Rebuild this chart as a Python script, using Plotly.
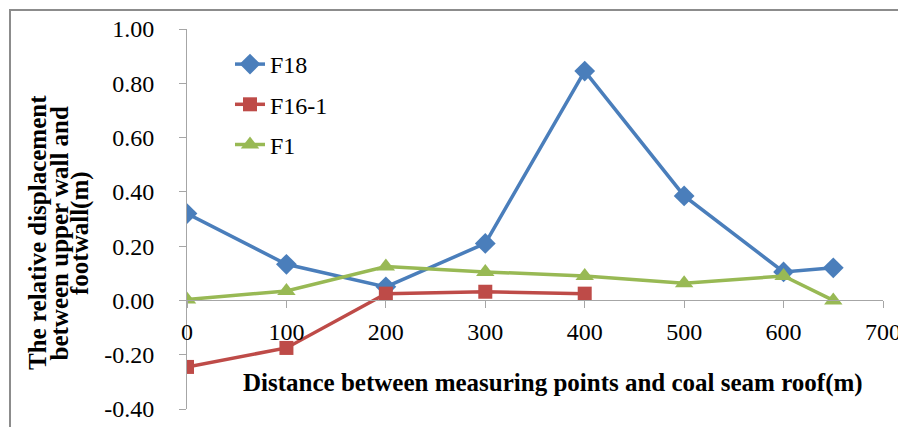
import plotly.graph_objects as go

# Data
x_f18 = [0, 100, 200, 300, 400, 500, 600, 650]
y_f18 = [0.32, 0.133, 0.05, 0.21, 0.845, 0.385, 0.105, 0.12]
x_f16 = [0, 100, 200, 300, 400]
y_f16 = [-0.245, -0.175, 0.025, 0.032, 0.025]
x_f1 = [0, 100, 200, 300, 400, 500, 600, 650]
y_f1 = [0.003, 0.035, 0.125, 0.105, 0.09, 0.063, 0.09, 0.0]

x_ticks = [0, 100, 200, 300, 400, 500, 600, 700]
y_ticks = [-0.4, -0.2, 0.0, 0.2, 0.4, 0.6, 0.8, 1.0]
y_tick_labels = ["-0.40", "-0.20", "0.00", "0.20", "0.40", "0.60", "0.80", "1.00"]

x_title = "Distance between measuring points and coal seam roof(m)"
y_title_lines = ["The relative displacement", "between upper wall and", "footwall(m)"]

FONT = "Liberation Serif"
OFF = 8  # default page body margin
W, H = 906 - OFF, 427 - OFF
ML, MR, MT, MB = 187 - OFF, 23, 29 - OFF, 18
ymin, ymax = -0.4, 1.0

fig = go.Figure()
fig.add_trace(go.Scatter(x=x_f18, y=y_f18, name="F18", mode="lines+markers",
                         line=dict(color="#4A7EBB", width=3.5),
                         marker=dict(symbol="diamond", size=16, color="#4A7EBB"),
                         legendgroup="a"))
fig.add_trace(go.Scatter(x=x_f16, y=y_f16, name="F16-1", mode="lines+markers",
                         line=dict(color="#BE4B48", width=3.5),
                         marker=dict(symbol="square", size=14, color="#BE4B48"),
                         legendgroup="b"))
fig.add_trace(go.Scatter(x=x_f1, y=y_f1, name="F1", mode="lines+markers",
                         line=dict(color="#98B954", width=3.5),
                         marker=dict(symbol="triangle-up", size=16, color="#98B954"),
                         legendgroup="c"))

plot_w = W - ML - MR
plot_h = H - MT - MB


def px_x(px):
    return (px - OFF - ML) / plot_w


def px_y(py):
    return (H - MB - (py - OFF)) / plot_h


annotations = [
    dict(text="<b>" + x_title + "</b>", xref="paper", yref="paper",
         x=px_x(553), y=px_y(383), xanchor="center", yanchor="middle",
         showarrow=False, font=dict(family=FONT, size=25)),
]
for i, line in enumerate(y_title_lines):
    cx = [37, 58.5, 80][i]
    annotations.append(dict(text="<b>" + line + "</b>", xref="paper", yref="paper",
                            x=px_x(cx), y=px_y(233), xanchor="center", yanchor="middle",
                            textangle=-90, showarrow=False,
                            font=dict(family=FONT, size=25)))

fig.update_layout(
    width=W, height=H,
    margin=dict(l=ML, r=MR, t=MT, b=MB, autoexpand=False),
    paper_bgcolor="white", plot_bgcolor="white",
    font=dict(family=FONT, size=24, color="black"),
    showlegend=True,
    legend=dict(x=px_x(230), y=px_y(42), xanchor="left", yanchor="top",
                font=dict(family=FONT, size=24), tracegroupgap=6,
                bgcolor="rgba(0,0,0,0)"),
    xaxis=dict(range=[0, 700], tickvals=x_ticks, showgrid=False, zeroline=False,
               showline=True, linecolor="#A6A6A6", linewidth=1,
               ticks="outside", ticklen=7, tickcolor="#A6A6A6",
               anchor="free", position=(0 - ymin) / (ymax - ymin),
               automargin=False, ticklabelstandoff=3,
               tickfont=dict(family=FONT, size=24)),
    yaxis=dict(range=[ymin, ymax], tickvals=y_ticks, ticktext=y_tick_labels,
               showgrid=False, zeroline=False,
               showline=True, linecolor="#A6A6A6", linewidth=1,
               ticks="outside", ticklen=7, tickcolor="#A6A6A6",
               automargin=False, ticklabelstandoff=20,
               tickfont=dict(family=FONT, size=24)),
    annotations=annotations,
    shapes=[
        dict(type="rect", xref="paper", yref="paper",
             x0=px_x(10), x1=1.2,
             y0=-0.2, y1=px_y(10),
             line=dict(color="#8C8C8C", width=2), layer="below"),
    ],
)

fig.write_html("out.html")
